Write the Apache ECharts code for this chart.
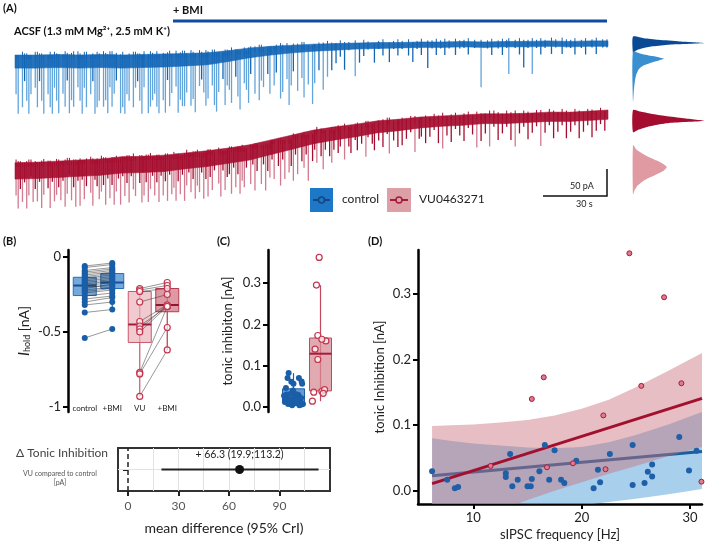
<!DOCTYPE html>
<html>
<head>
<meta charset="utf-8">
<script src="https://cdn.jsdelivr.net/npm/echarts@6/dist/echarts.min.js"></script>
<style>
html, body { margin: 0; padding: 0; background: #fff; }
#main { width: 709px; height: 542px; }
</style>
</head>
<body>
<div id="main"></div>
<script>
// ---------- (A) holding current traces ----------
// baseline knots (s) with baseline level and noise band thickness (pA)
var traceKnotsT = [0,10,20,30,40,50,60,70,80,90,100,110,120,130,140,150,160,170,180,190,200,210,220,230,240,250,260,270,278];
var blueBase = [-46,-46,-45,-46,-45,-46,-45,-44,-43,-42,-38,-33,-30,-28,-26,-25,-24,-23,-23,-22,-22,-21,-22,-21,-21,-20,-21,-20,-20];
var blueBand = [24,24,24,24,24,24,24,24,23,22,20,18,16,14,13,12,11,11,10,10,10,10,10,10,10,10,10,10,10];
var redBase = [-244,-243,-241,-239,-237,-233,-232,-230,-226,-222,-217,-211,-202,-193,-184,-178,-173,-167,-164,-160,-158,-156,-154,-154,-153,-151,-151,-149,-147];
var redBand = [30,30,30,30,30,30,30,30,29,29,28,28,27,26,25,24,23,22,21,20,19,19,18,18,17,17,17,17,17];
// one digit per second: size of the inward current events, in steps of EVENT_STEP pA
var EVENT_STEP = 12;
var blueEvents =
  '6908479605' + '8479068957' + '9068497805' + '7958064987' + '0879586409' +
  '8967085479' + '5098768907' + '9486059788' + '6087905468' + '7058960485' +
  '6804790568' + '4070856047' + '0640870596' + '4070580609' + '6040705040' +
  '3020401005' + '0302010030' + '1020030102' + '0100203010' + '2004010201' +
  '0201002010' + '1020010070' + '0102001020' + '1500102040' + '1050102010' +
  '0201002010' + '1020010200' + '10200101';
var redEvents =
  '5746375264' + '6375047365' + '4637526473' + '7364057346' + '5473647537' +
  '3647356047' + '6475364736' + '4736574637' + '5364756374' + '7463057364' +
  '4736475630' + '6374063745' + '3604736054' + '7360453704' + '3504630453' +
  '0430503402' + '4030520340' + '3040250304' + '0403020503' + '3040302040' +
  '5030402030' + '4020305040' + '3050204030' + '2040503020' + '4030205030' +
  '2040302040' + '3020403020' + '40302030';
// amplitude histograms at the right: [pA, relative density]
var distCtrlBmi = [[-12,0],[-15,0.15],[-18,0.35],[-21,0.65],[-24,1.0],[-27,0.5],[-30,0.28],[-33,0.15],[-36,0.07],[-40,0.02],[-44,0]];
var distCtrl = [[-40,0],[-44,0.12],[-48,0.27],[-51,0.38],[-53,0.43],[-56,0.36],[-60,0.25],[-65,0.15],[-72,0.08],[-82,0.045],[-95,0.025],[-110,0.012],[-125,0.005],[-133,0]];
var distVuBmi = [[-147,0],[-150,0.1],[-154,0.25],[-158,0.45],[-162,0.7],[-167,1.0],[-171,0.5],[-175,0.3],[-179,0.17],[-183,0.08],[-188,0]];
var distVu = [[-211,0],[-220,0.05],[-230,0.17],[-240,0.33],[-247,0.43],[-252,0.47],[-258,0.43],[-265,0.33],[-275,0.17],[-285,0.07],[-295,0.02],[-303,0]];

// ---------- (B) holding current ----------
var holdCats = ['control', '+BMI', 'VU', '+BMI'];
var ctrlHold = [-0.06,-0.07,-0.09,-0.10,-0.11,-0.12,-0.13,-0.14,-0.15,-0.16,-0.17,-0.18,-0.19,-0.20,-0.21,-0.22,-0.23,-0.24,-0.26,-0.28,-0.30,-0.32,-0.37,-0.54];
var ctrlBmiHold = [-0.04,-0.05,-0.07,-0.08,-0.09,-0.10,-0.11,-0.12,-0.13,-0.14,-0.15,-0.16,-0.17,-0.19,-0.18,-0.20,-0.21,-0.22,-0.24,-0.26,-0.27,-0.30,-0.35,-0.48];
var vuHold = [-0.21,-0.22,-0.23,-0.30,-0.43,-0.46,-0.48,-0.50,-0.77,-0.78,-0.93];
var vuBmiHold = [-0.17,-0.19,-0.21,-0.25,-0.32,-0.33,-0.32,-0.33,-0.33,-0.47,-0.62];
// [min, Q1, median, Q3, max]
var holdBoxes = [
  [-0.32, -0.257, -0.19, -0.135, -0.05],
  [-0.35, -0.21, -0.17, -0.11, -0.04],
  [-0.93, -0.57, -0.45, -0.23, -0.21],
  [-0.62, -0.365, -0.32, -0.21, -0.17]
];

// ---------- (C)/(D) tonic inhibition vs sIPSC frequency ----------
var blueFreq = [6.2,7.6,8.3,8.6,13.0,13.0,13.4,13.6,14.1,15.0,15.3,15.4,16.1,16.6,17.0,17.5,18.1,18.4,19.5,21.1,21.5,21.7,22.6,24.7,24.7,25.8,26.1,26.5,26.5,29.0,29.9,30.6];
var blueTonic = [0.030,0.017,0.004,0.006,0.027,0.021,0.056,0.007,0.017,0.007,0.007,0.018,0.030,0.070,0.017,0.062,0.017,0.012,0.046,0.004,0.032,0.013,0.056,0.070,0.009,0.012,0.029,0.040,0.022,0.082,0.031,0.061];
var redFreq = [11.6,15.4,16.5,16.8,19.2,22.0,22.2,24.4,25.5,27.6,29.2,31.05];
var redTonic = [0.038,0.140,0.173,0.036,0.042,0.115,0.033,0.362,0.160,0.295,0.164,0.014];
var blueTonicBox = [0.004, 0.012, 0.023, 0.044, 0.082];
var redTonicBox = [0.014, 0.039, 0.129, 0.167, 0.295];
// fitted lines and credible bands
var fitX = [6.2, 31.1];
var blueFit = [0.023, 0.060];
var redFit = [0.011, 0.141];
var bandX = [6.2, 8, 10, 12.5, 15, 17.5, 20, 22.5, 25, 28, 31.1];
var blueBandLow = [-0.09, -0.075, -0.06, -0.047, -0.035, -0.028, -0.022, -0.017, -0.012, -0.005, 0.003];
var blueBandUp = [0.080, 0.076, 0.072, 0.069, 0.066, 0.065, 0.067, 0.074, 0.085, 0.101, 0.120];
var redBandLow = [-0.08, -0.062, -0.045, -0.029, -0.014, 0.0, 0.013, 0.026, 0.038, 0.053, 0.067];
var redBandUp = [0.099, 0.100, 0.101, 0.104, 0.108, 0.115, 0.125, 0.139, 0.158, 0.183, 0.210];

// ---------- forest plot ----------
var diffMean = 66.3;
var diffLow = 19.9;
var diffHigh = 113.2;
var forestTicks = [0, 30, 60, 90];
var forestGrid = [15, 30, 45, 60, 75, 90, 105];

// jitter of the dots in (C), in category widths
var jitterBlue = [-0.25,0.1,-0.05,0.3,-0.35,0.15,0.0,-0.2,0.25,-0.1,0.35,-0.3,0.05,0.2,-0.15,0.3,-0.05,0.12,-0.28,0.22,-0.1,0.05,0.32,-0.22,0.08,-0.32,0.18,-0.02,0.27,-0.18,0.1,-0.08];
var jitterRed = [0.05,-0.2,-0.1,-0.25,0.15,-0.1,0.1,-0.05,0.2,-0.15,0.05,-0.3];

var FONT = 'Lato';
var BLUE = '#1466b5', BLUE_LIGHT = '#62a4dc', RED = '#a50d2f', RED_LIGHT = '#d27a8f';

var dom = document.getElementById('main');
var myChart = echarts.init(dom);

function knotData(base, band) {
  return traceKnotsT.map(function (t, i) { return [t, base[i], band[i]]; });
}
function eventData(str, base) {
  var out = [];
  for (var i = 0; i < str.length; i++) {
    var c = +str.charAt(i);
    if (c > 0) out.push([i + 0.5, base[Math.floor(i / 10)], c * EVENT_STEP]);
  }
  return out;
}
function eventSeries(data, dark, light) {
  return {
    type: 'custom', xAxisIndex: 0, yAxisIndex: 0, silent: true, data: data, encode: { x: 0, y: 1 },
    renderItem: function (p, api) {
      var t = api.value(0), b = api.value(1), a = api.value(2);
      // noisy top edge: small overshoot above the baseline
      var over = (a / EVENT_STEP) % 3 * 3;
      var p0 = api.coord([t, b + over]), p1 = api.coord([t, b]), p2 = api.coord([t, b - a]);
      return { type: 'group', children: [
        { type: 'line', shape: { x1: p1[0], y1: p1[1], x2: p2[0], y2: p2[1] },
          style: { stroke: a >= 5 * EVENT_STEP ? light : dark, lineWidth: 1.3 } },
        { type: 'line', shape: { x1: p0[0], y1: p0[1], x2: p1[0], y2: p1[1] + 4 },
          style: { stroke: dark, lineWidth: 1 } }
      ] };
    }
  };
}
function bandSeries(data, color) {
  return {
    type: 'custom', xAxisIndex: 0, yAxisIndex: 0, silent: true, data: data, encode: { x: 0, y: 1 },
    renderItem: function (p, api) {
      var i = p.dataIndex;
      if (i >= data.length - 1) return null;
      var a = data[i], b = data[i + 1];
      var pts = [api.coord([a[0], a[1]]), api.coord([b[0], b[1]]), api.coord([b[0], b[1] - b[2]]), api.coord([a[0], a[1] - a[2]])];
      return { type: 'polygon', shape: { points: pts }, style: { fill: color, stroke: color, lineWidth: 0.6, opacity: 0.92 } };
    }
  };
}
function distSeries(data, color) {
  return {
    type: 'custom', xAxisIndex: 1, yAxisIndex: 1, silent: true, data: data, encode: { x: 1, y: 0 },
    renderItem: function (p, api) {
      if (p.dataIndex !== 0) return null;
      var pts = data.map(function (d) { return api.coord([d[1], d[0]]); });
      return { type: 'polygon', shape: { points: pts, smooth: 0.2 }, style: { fill: color } };
    }
  };
}
// credible band between two curves, clipped to the plot area
function ciSeries(xs, low, up, color, z) {
  var data = xs.map(function (x, i) { return [x, low[i], up[i]]; });
  return {
    type: 'custom', xAxisIndex: 4, yAxisIndex: 4, silent: true, clip: true, z: z, data: data, encode: { x: 0, y: [1, 2] },
    renderItem: function (p, api) {
      if (p.dataIndex !== 0) return null;
      var upper = data.map(function (d) { return api.coord([d[0], d[2]]); });
      var lower = data.map(function (d) { return api.coord([d[0], d[1]]); }).reverse();
      return { type: 'polygon', shape: { points: upper.concat(lower) }, style: { fill: color } };
    }
  };
}
function boxSeries(xi, yi, data, fills, strokes, medians, width) {
  return {
    type: 'custom', xAxisIndex: xi, yAxisIndex: yi, silent: true, data: data, encode: { x: 0, y: [1, 5] },
    renderItem: function (p, api) {
      var i = p.dataIndex, x = api.value(0);
      var pMin = api.coord([x, api.value(1)]), pQ1 = api.coord([x, api.value(2)]);
      var pMed = api.coord([x, api.value(3)]), pQ3 = api.coord([x, api.value(4)]);
      var pMax = api.coord([x, api.value(5)]);
      var h = width / 2;
      return { type: 'group', children: [
        { type: 'line', shape: { x1: pMin[0], y1: pMin[1], x2: pMax[0], y2: pMax[1] }, style: { stroke: strokes[i], lineWidth: 1.2 } },
        { type: 'rect', shape: { x: pQ3[0] - h, y: pQ3[1], width: width, height: pQ1[1] - pQ3[1] }, style: { fill: fills[i], stroke: strokes[i], lineWidth: 1 } },
        { type: 'line', shape: { x1: pMed[0] - h, y1: pMed[1], x2: pMed[0] + h, y2: pMed[1] }, style: { stroke: medians[i], lineWidth: 2 } }
      ] };
    }
  };
}
function pairSeries(fromIdx, toIdx, a, b) {
  return {
    type: 'custom', xAxisIndex: 2, yAxisIndex: 2, silent: true,
    data: a.map(function (v, i) { return [fromIdx, v, toIdx, b[i]]; }), encode: { x: [0, 2], y: [1, 3] },
    renderItem: function (p, api) {
      var p1 = api.coord([api.value(0), api.value(1)]), p2 = api.coord([api.value(2), api.value(3)]);
      return { type: 'line', shape: { x1: p1[0], y1: p1[1], x2: p2[0], y2: p2[1] }, style: { stroke: '#333', lineWidth: 0.6, opacity: 0.85 } };
    }
  };
}
function zip(xs, ys) { return xs.map(function (x, i) { return [x, ys[i]]; }); }

var blackAxis = { show: true, onZero: false, lineStyle: { color: '#000', width: 2.5 } };
var outTick = function (vals) { return { show: true, inside: false, length: 5, customValues: vals, lineStyle: { color: '#000', width: 2 } }; };
var tickLabel = function (vals, fmt) { return { show: true, customValues: vals, fontSize: 13, color: '#222', fontFamily: FONT, margin: 7, formatter: fmt }; };

var option = {
  animation: false,
  backgroundColor: '#fff',
  textStyle: { fontFamily: FONT },
  grid: [
    { left: 15, top: 30, width: 593, height: 185 },
    { left: 633, top: 30, width: 72, height: 185 },
    { left: 71, top: 250, width: 110, height: 162 },
    { left: 280, top: 250, width: 54, height: 162 },
    { left: 418, top: 250, width: 284, height: 254 },
    { left: 118, top: 448, width: 212, height: 43, show: true, borderColor: '#333', borderWidth: 2 }
  ],
  xAxis: [
    { type: 'value', gridIndex: 0, min: 0, max: 278, show: false },
    { type: 'value', gridIndex: 1, min: 0, max: 1, show: false },
    { type: 'category', gridIndex: 2, data: holdCats, boundaryGap: true,
      axisLine: { show: false, onZero: false }, axisTick: { show: false },
      axisLabel: { fontSize: 8, color: '#222', margin: -8, interval: 0 } },
    { type: 'value', gridIndex: 3, min: 0.5, max: 2.5, show: false },
    { type: 'value', gridIndex: 4, min: 4.9, max: 31.1,
      axisLine: blackAxis, axisTick: outTick([10, 20, 30]), axisLabel: tickLabel([10, 20, 30]), splitLine: { show: false },
      name: 'sIPSC frequency [Hz]', nameLocation: 'middle', nameGap: 24, nameTextStyle: { fontSize: 13, color: '#222' } },
    { type: 'value', gridIndex: 5, min: -5.9, max: 120,
      axisLine: { show: false, onZero: false }, axisTick: { show: true, length: 5, customValues: forestTicks, lineStyle: { color: '#222', width: 2 } },
      axisLabel: { customValues: forestTicks, fontSize: 12, color: '#555', margin: 9 }, splitLine: { show: false },
      name: 'mean difference (95% CrI)', nameLocation: 'middle', nameGap: 30, nameTextStyle: { fontSize: 14, color: '#222' } }
  ],
  yAxis: [
    { type: 'value', gridIndex: 0, min: -340, max: 0, show: false },
    { type: 'value', gridIndex: 1, min: -340, max: 0, show: false },
    { type: 'value', gridIndex: 2, min: -1.034, max: 0.047, offset: 3,
      axisLine: blackAxis, axisTick: outTick([-1, -0.5, 0]),
      axisLabel: tickLabel([-1, -0.5, 0], function (v) { return v === 0 ? '0' : String(v); }), splitLine: { show: false },
      name: '{i|I}{s|hold} [nA]', nameLocation: 'middle', nameGap: 36,
      nameTextStyle: { fontSize: 14, color: '#222', rich: { i: { fontStyle: 'italic', fontSize: 15 }, s: { fontSize: 9, padding: [7, 0, 0, 0] } } } },
    { type: 'value', gridIndex: 3, min: -0.0121, max: 0.38, offset: 12,
      axisLine: blackAxis, axisTick: outTick([0, 0.1, 0.2, 0.3]),
      axisLabel: tickLabel([0, 0.1, 0.2, 0.3], function (v) { return v.toFixed(1); }), splitLine: { show: false },
      name: 'tonic inhibiton [nA]', nameLocation: 'middle', nameGap: 34, nameTextStyle: { fontSize: 13, color: '#222' } },
    { type: 'value', gridIndex: 4, min: -0.02, max: 0.367,
      axisLine: blackAxis, axisTick: outTick([0, 0.1, 0.2, 0.3]),
      axisLabel: tickLabel([0, 0.1, 0.2, 0.3], function (v) { return v.toFixed(1); }), splitLine: { show: false },
      name: 'tonic Inhibition [nA]', nameLocation: 'middle', nameGap: 32, nameTextStyle: { fontSize: 13, color: '#222' } },
    { type: 'value', gridIndex: 5, min: 0, max: 2,
      axisLine: { show: false }, axisLabel: { show: false }, splitLine: { show: false },
      axisTick: { show: true, length: 5, customValues: [1], lineStyle: { color: '#222', width: 2 } } }
  ],
  graphic: [
    { type: 'text', left: 3, top: 3, style: { text: '(A)', font: 'bold 11px Lato', fill: '#111' } },
    { type: 'text', left: 3, top: 236, style: { text: '(B)', font: 'bold 11px Lato', fill: '#111' } },
    { type: 'text', left: 217, top: 236, style: { text: '(C)', font: 'bold 11px Lato', fill: '#111' } },
    { type: 'text', left: 368, top: 236, style: { text: '(D)', font: 'bold 11px Lato', fill: '#111' } },
    { type: 'text', left: 173, top: 5, style: { text: '+ BMI', font: 'bold 11px Lato', fill: '#111' } },
    { type: 'line', shape: { x1: 173, y1: 21, x2: 607, y2: 21 }, style: { stroke: '#0d4c9e', lineWidth: 3 } },
    { type: 'text', left: 14, top: 26, style: { text: 'ACSF (1.3 mM Mg\u00b2\u207a, 2.5 mM K\u207a)', font: 'bold 11px Lato', fill: '#111' } },
    // legend
    { type: 'rect', shape: { x: 310, y: 188, width: 23, height: 24 }, style: { fill: '#1e78c8' } },
    { type: 'line', shape: { x1: 313, y1: 200, x2: 330, y2: 200 }, style: { stroke: '#16467f', lineWidth: 2 } },
    { type: 'circle', shape: { cx: 321.5, cy: 200, r: 3 }, style: { fill: '#1e78c8', stroke: '#16467f', lineWidth: 1.5 } },
    { type: 'text', left: 342, top: 193, style: { text: 'control', font: '12px Lato', fill: '#222' } },
    { type: 'rect', shape: { x: 387, y: 188, width: 24, height: 24 }, style: { fill: '#dca0a6' } },
    { type: 'line', shape: { x1: 390, y1: 200, x2: 408, y2: 200 }, style: { stroke: '#a51c3c', lineWidth: 2 } },
    { type: 'circle', shape: { cx: 399, cy: 200, r: 3 }, style: { fill: '#dca0a6', stroke: '#a51c3c', lineWidth: 1.5 } },
    { type: 'text', left: 419, top: 193, style: { text: 'VU0463271', font: '12px Lato', fill: '#222' } },
    // scale bar
    { type: 'polyline', shape: { points: [[543, 196], [607, 196], [607, 169]] }, style: { stroke: '#111', lineWidth: 1.5, fill: null } },
    { type: 'text', left: 570, top: 182, style: { text: '50 pA', font: '9px Lato', fill: '#222' } },
    { type: 'text', left: 576, top: 200, style: { text: '30 s', font: '9px Lato', fill: '#222' } },
    // forest labels
    { type: 'text', left: 16, top: 447, style: { text: '\u0394 Tonic Inhibition', font: '12px Lato', fill: '#444' } },
    { type: 'text', x: 60, y: 469, style: { text: 'VU compared to control\n[pA]', font: '7px Lato', fill: '#555', align: 'center', lineHeight: 9 } }
  ],
  series: [
    eventSeries(eventData(blueEvents, blueBase), BLUE, BLUE_LIGHT),
    bandSeries(knotData(blueBase, blueBand), BLUE),
    eventSeries(eventData(redEvents, redBase), RED, RED_LIGHT),
    bandSeries(knotData(redBase, redBand), RED),
    distSeries(distCtrlBmi, '#0a4a94'),
    distSeries(distCtrl, '#3a8fd0'),
    distSeries(distVuBmi, '#a50d30'),
    distSeries(distVu, '#e09aa2'),

    // (B)
    boxSeries(2, 2, holdBoxes.map(function (b, i) { return [i].concat(b); }),
      ['rgba(70,140,210,0.75)', 'rgba(70,140,210,0.75)', 'rgba(235,180,186,0.7)', 'rgba(210,120,134,0.75)'],
      ['#2a6db5', '#2a6db5', '#c65a6c', '#b33a52'],
      ['#1a4f8f', '#1a4f8f', '#a51c3c', '#8f1530'], 23),
    pairSeries(0, 1, ctrlHold, ctrlBmiHold),
    pairSeries(2, 3, vuHold, vuBmiHold),
    { type: 'scatter', xAxisIndex: 2, yAxisIndex: 2, symbolSize: 6, silent: true, itemStyle: { color: '#1a5ea8', opacity: 1 },
      data: ctrlHold.map(function (v) { return [0, v]; }).concat(ctrlBmiHold.map(function (v) { return [1, v]; })) },
    { type: 'scatter', xAxisIndex: 2, yAxisIndex: 2, symbolSize: 6, silent: true,
      itemStyle: { color: 'rgba(255,255,255,0.7)', borderColor: '#c2364f', borderWidth: 1.2, opacity: 1 },
      data: vuHold.map(function (v) { return [2, v]; }).concat(vuBmiHold.map(function (v) { return [3, v]; })) },

    // (C)
    boxSeries(3, 3, [[1].concat(blueTonicBox), [2].concat(redTonicBox)],
      ['rgba(60,130,200,0.8)', 'rgba(215,140,150,0.75)'], ['#1f5fa8', '#c24a60'], ['#1a4f8f', '#a51c3c'], 22),
    { type: 'scatter', xAxisIndex: 3, yAxisIndex: 3, symbolSize: 6, silent: true, itemStyle: { color: '#1a5ea8', opacity: 1 },
      data: blueTonic.map(function (v, i) { return [1 + jitterBlue[i], v]; }) },
    { type: 'scatter', xAxisIndex: 3, yAxisIndex: 3, symbolSize: 6, silent: true,
      itemStyle: { color: 'rgba(255,255,255,0.7)', borderColor: '#c2364f', borderWidth: 1.2, opacity: 1 },
      data: redTonic.map(function (v, i) { return [2 + jitterRed[i], v]; }) },

    // (D): blue band and fit under the red band, dots on top
    ciSeries(bandX, blueBandLow, blueBandUp, 'rgba(110,175,222,0.6)', 1),
    { type: 'line', xAxisIndex: 4, yAxisIndex: 4, symbol: 'none', silent: true, z: 1,
      lineStyle: { color: '#17609b', width: 3 }, data: zip(fitX, blueFit) },
    ciSeries(bandX, redBandLow, redBandUp, 'rgba(200,110,122,0.45)', 2),
    { type: 'line', xAxisIndex: 4, yAxisIndex: 4, symbol: 'none', silent: true, z: 3,
      lineStyle: { color: '#a3102f', width: 3 }, data: zip(fitX, redFit) },
    { type: 'scatter', xAxisIndex: 4, yAxisIndex: 4, symbolSize: 6, silent: true, z: 4, itemStyle: { color: '#1f5fa8', opacity: 1 },
      data: zip(blueFreq, blueTonic) },
    { type: 'scatter', xAxisIndex: 4, yAxisIndex: 4, symbolSize: 5, silent: true, z: 4,
      itemStyle: { color: '#e07a8e', borderColor: '#a31c3b', borderWidth: 1, opacity: 1 },
      data: zip(redFreq, redTonic) },

    // forest
    { type: 'line', xAxisIndex: 5, yAxisIndex: 5, symbol: 'none', silent: true, z: 10,
      lineStyle: { color: '#222', width: 2 }, data: [[diffLow, 1], [diffHigh, 1]],
      markLine: { silent: true, symbol: ['none', 'none'], label: { show: false },
        data: forestGrid.map(function (v) { return { xAxis: v, lineStyle: { color: '#e2e2e2', width: 1, type: 'solid' } }; })
          .concat([{ yAxis: 1, lineStyle: { color: '#e2e2e2', width: 1, type: 'solid' } },
                   { xAxis: 0, lineStyle: { color: '#222', width: 1.5, type: [5, 3] } }]) } },
    { type: 'scatter', xAxisIndex: 5, yAxisIndex: 5, symbolSize: 9, silent: true, z: 11, itemStyle: { color: '#111', opacity: 1 },
      data: [[diffMean, 1]],
      label: { show: true, position: 'top', distance: 5, fontSize: 10.5, color: '#222',
        formatter: '+ ' + diffMean + ' (' + diffLow + ';' + diffHigh + ')' } }
  ]
};
if (option && typeof option === 'object') {
  myChart.setOption(option, true);
}
</script>
</body>
</html>
